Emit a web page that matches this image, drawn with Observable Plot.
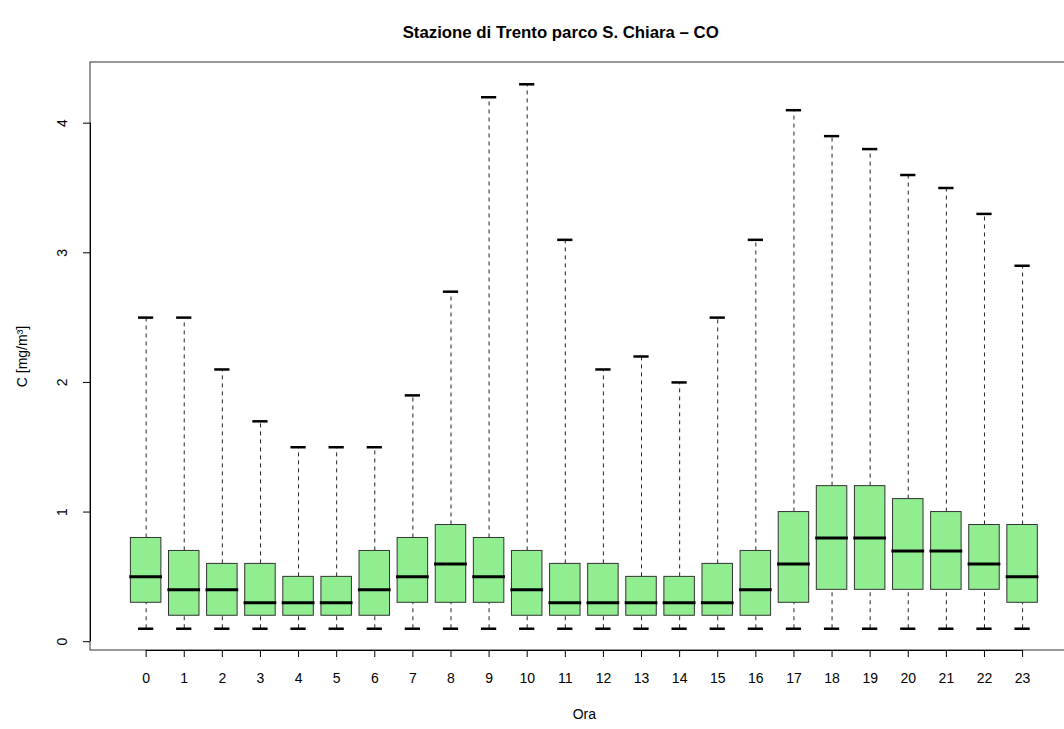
<!DOCTYPE html>
<html>
<head>
<meta charset="utf-8">
<script src="https://cdn.jsdelivr.net/npm/d3@7"></script>
<script src="https://cdn.jsdelivr.net/npm/@observablehq/plot@0.6"></script>
<style>
  html, body { margin: 0; padding: 0; background: #fff; }
  #chart { position: relative; width: 1064px; height: 729px; overflow: hidden; }
</style>
</head>
<body>
<div id="chart"></div>
<script>
const title = "Stazione di Trento parco S. Chiara \u2013 CO";
const xLabel = "Ora";
const yLabel = "C [mg/m\u00B3]";
const hours = d3.range(0, 24);
const yTicks = [0, 1, 2, 3, 4];
const whiskerLow  = [0.1,0.1,0.1,0.1,0.1,0.1,0.1,0.1,0.1,0.1,0.1,0.1,0.1,0.1,0.1,0.1,0.1,0.1,0.1,0.1,0.1,0.1,0.1,0.1];
const q1          = [0.3,0.2,0.2,0.2,0.2,0.2,0.2,0.3,0.3,0.3,0.2,0.2,0.2,0.2,0.2,0.2,0.2,0.3,0.4,0.4,0.4,0.4,0.4,0.3];
const median      = [0.5,0.4,0.4,0.3,0.3,0.3,0.4,0.5,0.6,0.5,0.4,0.3,0.3,0.3,0.3,0.3,0.4,0.6,0.8,0.8,0.7,0.7,0.6,0.5];
const q3          = [0.8,0.7,0.6,0.6,0.5,0.5,0.7,0.8,0.9,0.8,0.7,0.6,0.6,0.5,0.5,0.6,0.7,1.0,1.2,1.2,1.1,1.0,0.9,0.9];
const whiskerHigh = [2.5,2.5,2.1,1.7,1.5,1.5,1.5,1.9,2.7,4.2,4.3,3.1,2.1,2.2,2.0,2.5,3.1,4.1,3.9,3.8,3.6,3.5,3.3,2.9];

const data = hours.map((h, i) => ({
  hour: h, lo: whiskerLow[i], q1: q1[i], med: median[i], q3: q3[i], hi: whiskerHigh[i]
}));

const font = "'Liberation Sans', Arial, Helvetica, sans-serif";
const halfBox = 0.4, halfCap = 0.2;
const xMin = -1.46, xMax = 25.46, yMin = -0.068, yMax = 4.468;

const plot = Plot.plot({
  width: 1064,
  height: 729,
  marginLeft: 90,
  marginRight: 0,
  marginTop: 62,
  marginBottom: 79,
  style: { fontFamily: font, fontSize: "14px", background: "#fff", overflow: "visible" },
  x: { type: "linear", domain: [xMin, 24.10], range: [90, 1064], axis: null },
  y: { type: "linear", domain: [yMin, yMax], axis: null },
  marks: [
    // frame (extends past the right edge like the original)
    Plot.rect([0], { x1: xMin, x2: xMax, y1: yMin, y2: yMax, fill: "none", stroke: "#333", strokeWidth: 1 }),
    // whiskers (dashed)
    Plot.ruleX(data, { x: "hour", y1: "lo", y2: "q1", stroke: "#222", strokeWidth: 1, strokeDasharray: "4,4" }),
    Plot.ruleX(data, { x: "hour", y1: "q3", y2: "hi", stroke: "#222", strokeWidth: 1, strokeDasharray: "4,4" }),
    // caps
    Plot.ruleY(data, { y: "lo", x1: d => d.hour - halfCap, x2: d => d.hour + halfCap, stroke: "#000", strokeWidth: 2.5 }),
    Plot.ruleY(data, { y: "hi", x1: d => d.hour - halfCap, x2: d => d.hour + halfCap, stroke: "#000", strokeWidth: 2.5 }),
    // boxes
    Plot.rect(data, { x1: d => d.hour - halfBox, x2: d => d.hour + halfBox, y1: "q1", y2: "q3", fill: "#90EE90", stroke: "#333", strokeWidth: 1 }),
    // medians
    Plot.ruleY(data, { y: "med", x1: d => d.hour - halfBox - 0.03, x2: d => d.hour + halfBox + 0.03, stroke: "#000", strokeWidth: 3 }),
    // x axis line and ticks
    Plot.ruleY([yMin], { y: d => d, x1: hours[0], x2: hours[hours.length - 1], stroke: "#000", strokeWidth: 1 }),
    Plot.ruleX(hours, { x: d => d, y1: yMin, y2: yMin, insetBottom: -7, stroke: "#000" }),
    Plot.text(hours, { x: d => d, frameAnchor: "bottom", dy: 32, text: d => String(d), fontSize: 14, fill: "#000", textAnchor: "middle" }),
    // y axis line, ticks, rotated labels
    Plot.ruleX([xMin], { x: d => d, y1: yTicks[0], y2: yTicks[yTicks.length - 1], stroke: "#000" }),
    Plot.ruleY(yTicks, { y: d => d, x1: xMin, x2: xMin, insetLeft: -7, stroke: "#000" }),
    Plot.text(yTicks, { y: d => d, frameAnchor: "left", dx: -28, rotate: -90, textAnchor: "middle", text: d => String(d), fontSize: 14, fill: "#000" }),
    // axis titles
    Plot.text([xLabel], { frameAnchor: "bottom", x: 11.5, dy: 68, textAnchor: "middle", text: d => d, fontSize: 14, fill: "#000" }),
    Plot.text([yLabel], { frameAnchor: "left", y: 2.2, dx: -68, rotate: -90, textAnchor: "middle", text: d => d, fontSize: 14, fill: "#000" }),
    // title
    Plot.text([title], { frameAnchor: "top", x: 10.88, dy: -36, textAnchor: "middle", text: d => d, fontSize: 16.8, fontWeight: "bold", fill: "#000" })
  ]
});
document.getElementById("chart").appendChild(plot);
</script>
</body>
</html>
